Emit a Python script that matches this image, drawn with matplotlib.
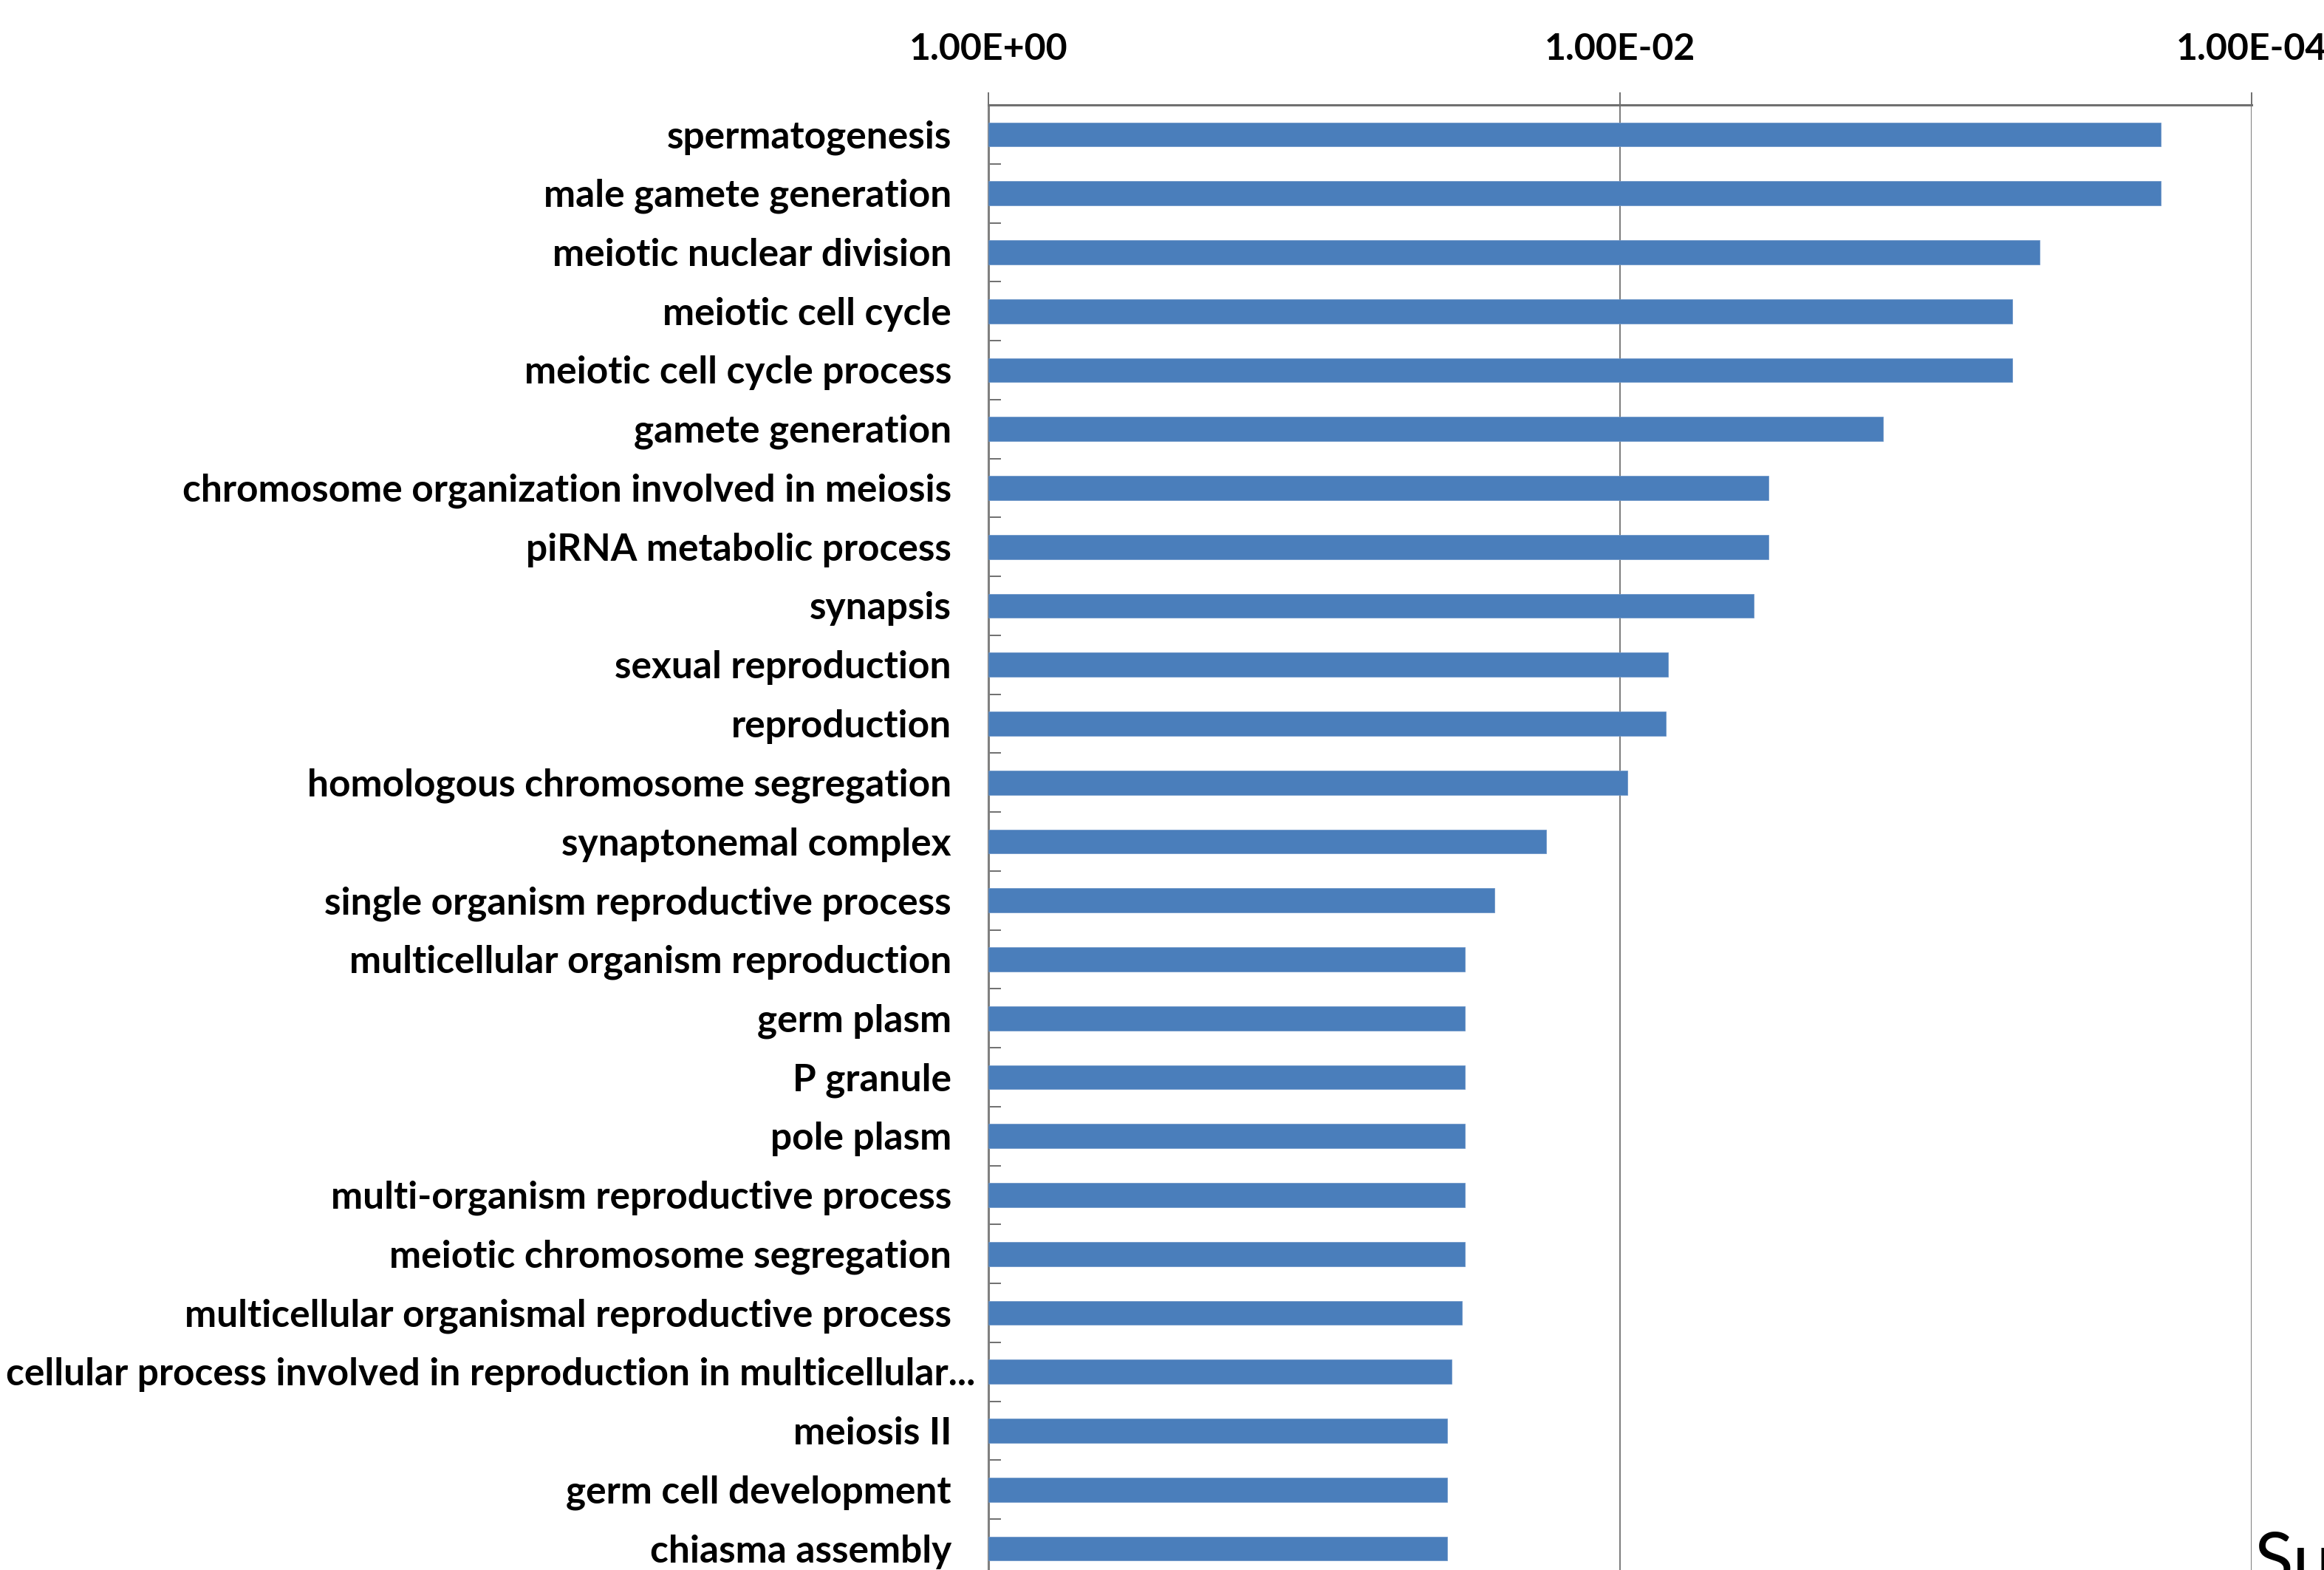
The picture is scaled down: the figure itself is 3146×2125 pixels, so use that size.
import numpy as np
import matplotlib
matplotlib.use("Agg")
import matplotlib.pyplot as plt
from matplotlib import transforms

plt.rcParams['font.family'] = ['Lato', 'DejaVu Sans']

# GO terms, top to bottom
terms = [
    "spermatogenesis",
    "male gamete generation",
    "meiotic nuclear division",
    "meiotic cell cycle",
    "meiotic cell cycle process",
    "gamete generation",
    "chromosome organization involved in meiosis",
    "piRNA metabolic process",
    "synapsis",
    "sexual reproduction",
    "reproduction",
    "homologous chromosome segregation",
    "synaptonemal complex",
    "single organism reproductive process",
    "multicellular organism reproduction",
    "germ plasm",
    "P granule",
    "pole plasm",
    "multi-organism reproductive process",
    "meiotic chromosome segregation",
    "multicellular organismal reproductive process",
    "cellular process involved in reproduction in multicellular...",
    "meiosis II",
    "germ cell development",
    "chiasma assembly",
]

# enrichment p-values
pvalues = [
    1.94e-4, 1.94e-4, 4.70e-4, 5.74e-4, 5.74e-4,
    1.47e-3, 3.38e-3, 3.38e-3, 3.77e-3, 7.05e-3,
    7.16e-3, 9.48e-3, 1.71e-2, 2.50e-2, 3.10e-2,
    3.10e-2, 3.10e-2, 3.10e-2, 3.10e-2, 3.10e-2,
    3.17e-2, 3.42e-2, 3.53e-2, 3.53e-2, 3.53e-2,
]

x_ticks = [1.0, 1e-2, 1e-4]
x_ticklabels = ["1.00E+00", "1.00E-02", "1.00E-04"]

W, H = 3146, 2125
DPI = 100
fig = plt.figure(figsize=(W / DPI, H / DPI), dpi=DPI)
fig.patch.set_facecolor("white")

left_px, right_px, top_px, bottom_px = 1338, 3048, 142, 2136
ax = fig.add_axes([left_px / W, 1 - bottom_px / H,
                   (right_px - left_px) / W, (bottom_px - top_px) / H])

ypos = np.arange(len(terms))
bar_color = "#4A7EBB"
ax.barh(ypos, [p - 1.0 for p in pvalues], left=1.0, height=0.41,
        color=bar_color, edgecolor="#6F97C8", linewidth=0.6, zorder=3)

ax.set_xscale("log")
ax.set_xlim(1.0, 1e-4)
ax.set_ylim(len(terms) - 0.5, -0.5)

ax.xaxis.tick_top()
ax.set_xticks(x_ticks)
ax.set_xticklabels(x_ticklabels, fontsize=36, fontweight="bold")
ax.xaxis.set_minor_locator(matplotlib.ticker.NullLocator())
ax.tick_params(axis="x", which="major", direction="out", length=12,
               width=1.4, color="#6F6F6F", pad=26)

ax.grid(axis="x", which="major", color="#7A7A7A", linewidth=1.4, zorder=0)
ax.set_axisbelow(True)

# category boundaries as small inward ticks on the left axis
ax.set_yticks([])
ax.set_yticks(np.arange(0.5, len(terms) - 0.5, 1.0), minor=True)
ax.tick_params(axis="y", which="minor", direction="in", length=12,
               width=1.4, color="#6F6F6F", labelleft=False)

for side in ("right", "bottom"):
    ax.spines[side].set_visible(False)
ax.spines["top"].set_color("#707070")
ax.spines["top"].set_linewidth(2.2)
ax.spines["left"].set_color("#808080")
ax.spines["left"].set_linewidth(2.2)

# category labels, right-aligned left of the axis
for i, term in enumerate(terms):
    gap = -18 if term.endswith("...") else -50
    trans = transforms.offset_copy(ax.get_yaxis_transform(), fig=fig,
                                   x=gap, y=-4, units="dots")
    ax.text(0, i, term, transform=trans, ha="right", va="center",
            fontsize=37, fontweight="bold", color="black", clip_on=False)

fig.text(3052 / W, -19 / H, "Su", fontsize=70, ha="left", va="baseline",
         color="black")

fig.savefig("out.png", dpi=DPI, facecolor="white")
